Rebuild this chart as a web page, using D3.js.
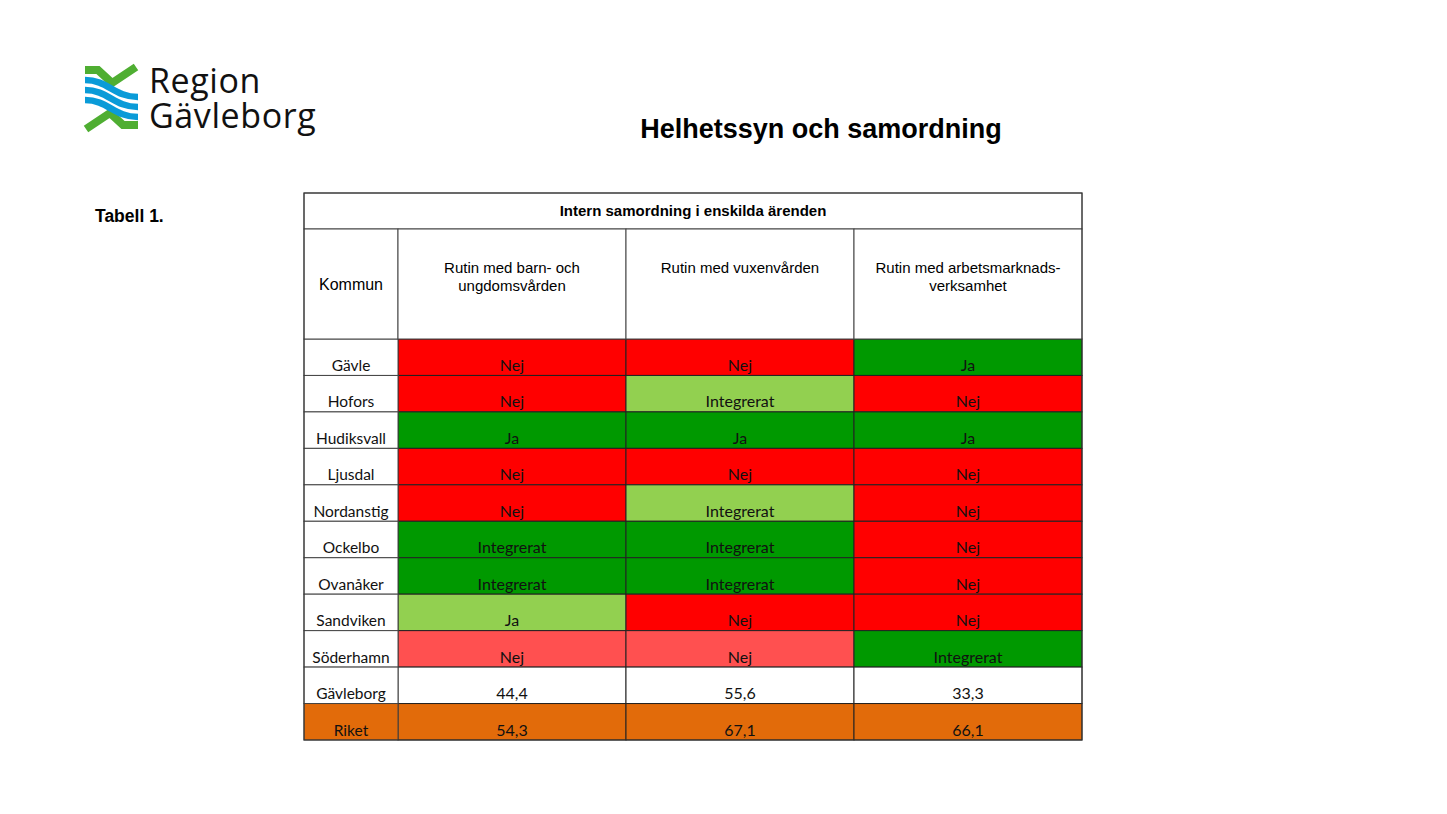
<!DOCTYPE html>
<html>
<head>
<meta charset="utf-8">
<script src="https://cdn.jsdelivr.net/npm/d3@7"></script>
<style>
  body { margin: 0; background: #fff; }
  svg { display: block; }
</style>
</head>
<body>
<div id="chart"></div>
<script>
// Table data
const kommuner = ['Gävle', 'Hofors', 'Hudiksvall', 'Ljusdal', 'Nordanstig', 'Ockelbo',
  'Ovanåker', 'Sandviken', 'Söderhamn', 'Gävleborg', 'Riket'];
const kolumner = ['Rutin med barn- och\nungdomsvården', 'Rutin med vuxenvården',
  'Rutin med arbetsmarknads-\nverksamhet'];

const barnUngdom = ['Nej', 'Nej', 'Ja', 'Nej', 'Nej', 'Integrerat', 'Integrerat', 'Ja', 'Nej', '44,4', '54,3'];
const vuxen = ['Nej', 'Integrerat', 'Ja', 'Nej', 'Integrerat', 'Integrerat', 'Integrerat', 'Nej', 'Nej', '55,6', '67,1'];
const arbetsmarknad = ['Ja', 'Nej', 'Ja', 'Nej', 'Nej', 'Nej', 'Nej', 'Nej', 'Integrerat', '33,3', '66,1'];

// cell status (colour class) per column
const barnStatus = ['nej', 'nej', 'ja', 'nej', 'nej', 'ja', 'ja', 'ljus', 'svag', 'lan', 'riket'];
const vuxenStatus = ['nej', 'ljus', 'ja', 'nej', 'ljus', 'ja', 'ja', 'nej', 'svag', 'lan', 'riket'];
const arbetStatus = ['ja', 'nej', 'ja', 'nej', 'nej', 'nej', 'nej', 'nej', 'ja', 'lan', 'riket'];

const values = [barnUngdom, vuxen, arbetsmarknad];
const statuses = [barnStatus, vuxenStatus, arbetStatus];

const width = 1447, height = 814;
const svg = d3.select('#chart').append('svg')
  .attr('width', width)
  .attr('height', height);

const color = d3.scaleOrdinal()
  .domain(['nej', 'ja', 'ljus', 'svag', 'lan', 'riket'])
  .range(['#ff0000', '#009900', '#92d050', '#ff5050', '#ffffff', '#e26b0a']);

// Logo
const logo = svg.append('g');
const green = '#4fae32', blue = '#0a9bd8';
logo.append('path')
  .attr('d', 'M85,70 L98,70 L112,83 L136,67')
  .attr('fill', 'none').attr('stroke', green).attr('stroke-width', 8);
logo.append('path')
  .attr('d', 'M86,129 L110,113 L123,125 L138,125')
  .attr('fill', 'none').attr('stroke', green).attr('stroke-width', 8);
[0, 10, 20].forEach(k => {
  logo.append('path')
    .attr('d', `M85,${80 + k} C108,${80 + k} 114,${97 + k} 138,${97 + k}`)
    .attr('fill', 'none').attr('stroke', blue).attr('stroke-width', 6.5);
});
logo.append('text').attr('x', 149).attr('y', 93)
  .attr('font-family', 'Open Sans, sans-serif').attr('font-size', 34)
  .attr('letter-spacing', 0.6).attr('fill', '#111').text('Region');
logo.append('text').attr('x', 149).attr('y', 128)
  .attr('font-family', 'Open Sans, sans-serif').attr('font-size', 34)
  .attr('letter-spacing', 0.6).attr('fill', '#111').text('Gävleborg');

// Titles
svg.append('text')
  .attr('x', 821).attr('y', 138)
  .attr('text-anchor', 'middle')
  .attr('font-family', 'Liberation Sans, Arial, sans-serif')
  .attr('font-size', 27).attr('font-weight', 'bold')
  .text('Helhetssyn och samordning');

svg.append('text')
  .attr('x', 95).attr('y', 222)
  .attr('font-family', 'Liberation Sans, Arial, sans-serif')
  .attr('font-size', 17.5).attr('font-weight', 'bold')
  .text('Tabell 1.');

// Table geometry
const tblLeft = 304, tblRight = 1082, kommunW = 94;
const tblTop = 193, headH = 36, colHeadBottom = 339, tblBottom = 740;

const x = d3.scaleBand()
  .domain(d3.range(kolumner.length))
  .range([tblLeft + kommunW, tblRight]);
const y = d3.scaleBand()
  .domain(kommuner)
  .range([colHeadBottom, tblBottom]);

const table = svg.append('g');

// Data cells
values.forEach((col, ci) => {
  table.selectAll(null)
    .data(kommuner)
    .join('rect')
    .attr('x', x(ci))
    .attr('y', d => y(d))
    .attr('width', x.bandwidth())
    .attr('height', y.bandwidth())
    .attr('fill', (d, i) => color(statuses[ci][i]))
    .attr('stroke', '#222')
    .attr('stroke-width', 1);

  table.selectAll(null)
    .data(col)
    .join('text')
    .attr('x', x(ci) + x.bandwidth() / 2)
    .attr('y', (d, i) => y(kommuner[i]) + y.bandwidth() - 4.5)
    .attr('text-anchor', 'middle')
    .attr('font-family', 'Lato, Open Sans, sans-serif')
    .attr('font-size', 16)
    .attr('fill', '#111')
    .text(d => d);
});

// Kommun column
table.selectAll(null)
  .data(kommuner)
  .join('rect')
  .attr('x', tblLeft)
  .attr('y', d => y(d))
  .attr('width', kommunW)
  .attr('height', y.bandwidth())
  .attr('fill', (d, i) => color(barnStatus[i] === 'riket' ? 'riket' : 'lan'))
  .attr('stroke', '#444')
  .attr('stroke-width', 1);

table.selectAll(null)
  .data(kommuner)
  .join('text')
  .attr('x', tblLeft + kommunW / 2)
  .attr('y', d => y(d) + y.bandwidth() - 4.5)
  .attr('text-anchor', 'middle')
  .attr('font-family', 'Lato, Open Sans, sans-serif')
  .attr('font-size', 15.5)
  .attr('fill', '#111')
  .text(d => d);

// Header rows
table.append('rect')
  .attr('x', tblLeft).attr('y', tblTop)
  .attr('width', tblRight - tblLeft).attr('height', headH)
  .attr('fill', '#fff').attr('stroke', '#444');
table.append('text')
  .attr('x', (tblLeft + tblRight) / 2).attr('y', tblTop + 23)
  .attr('text-anchor', 'middle')
  .attr('font-family', 'Liberation Sans, Arial, sans-serif')
  .attr('font-size', 15).attr('font-weight', 'bold')
  .text('Intern samordning i enskilda ärenden');

table.append('rect')
  .attr('x', tblLeft).attr('y', tblTop + headH)
  .attr('width', kommunW).attr('height', colHeadBottom - tblTop - headH)
  .attr('fill', '#fff').attr('stroke', '#444');
table.append('text')
  .attr('x', tblLeft + kommunW / 2).attr('y', 290)
  .attr('text-anchor', 'middle')
  .attr('font-family', 'Liberation Sans, Arial, sans-serif')
  .attr('font-size', 16)
  .text('Kommun');

kolumner.forEach((label, ci) => {
  table.append('rect')
    .attr('x', x(ci)).attr('y', tblTop + headH)
    .attr('width', x.bandwidth()).attr('height', colHeadBottom - tblTop - headH)
    .attr('fill', '#fff').attr('stroke', '#444');
  const t = table.append('text')
    .attr('text-anchor', 'middle')
    .attr('font-family', 'Liberation Sans, Arial, sans-serif')
    .attr('font-size', 15);
  label.split('\n').forEach((line, li) => {
    t.append('tspan')
      .attr('x', x(ci) + x.bandwidth() / 2)
      .attr('y', 273 + li * 18)
      .text(line);
  });
});

// outer border
table.append('rect')
  .attr('x', tblLeft).attr('y', tblTop)
  .attr('width', tblRight - tblLeft).attr('height', tblBottom - tblTop)
  .attr('fill', 'none').attr('stroke', '#333');
</script>
</body>
</html>
